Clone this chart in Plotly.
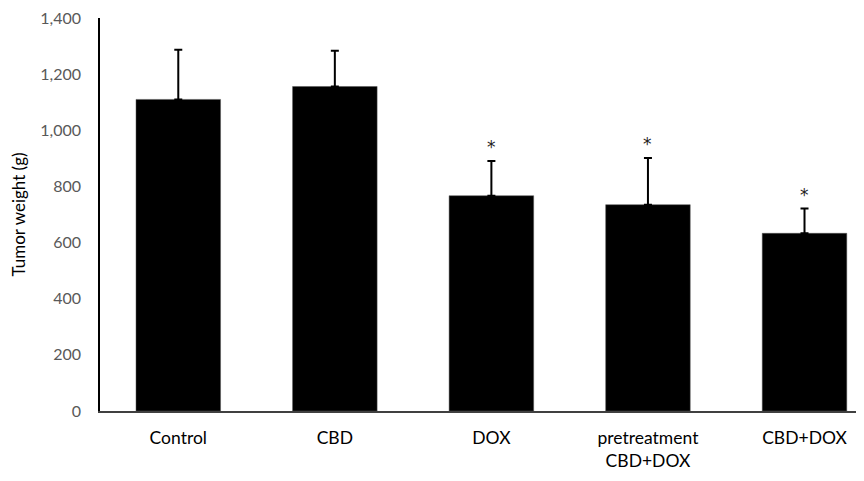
import plotly.graph_objects as go

categories = ["Control", "CBD", "DOX", "pretreatment<br>CBD+DOX", "CBD+DOX"]
means = [1110, 1156, 767, 735, 633]
errors = [177, 127, 124, 166, 88]
stars = ["", "", "*", "*", "*"]
y_ticks = [0, 200, 400, 600, 800, 1000, 1200, 1400]

x_idx = list(range(len(categories)))

fig = go.Figure()
fig.add_trace(go.Bar(
    x=x_idx, y=means, width=0.54,
    marker=dict(color="black", line=dict(color="#555555", width=0.5)),
    error_y=dict(type="data", symmetric=False, array=errors,
                 arrayminus=[0] * len(errors), color="black",
                 thickness=2, width=4),
    showlegend=False,
))
for xi, m, e, s in zip(x_idx, means, errors, stars):
    if s:
        fig.add_annotation(x=xi, y=m + e, text=s, showarrow=False,
                           yanchor="bottom", yshift=2,
                           font=dict(size=17, color="#222222",
                                     family="DejaVu Sans, sans-serif"))

fig.update_layout(
    width=856, height=473,
    margin=dict(l=92, r=0, t=7, b=70),
    plot_bgcolor="white", paper_bgcolor="white",
    font=dict(family="Lato, 'Open Sans', sans-serif", color="black"),
)
fig.update_xaxes(
    range=[-0.5, 4.38], tickmode="array", tickvals=x_idx, ticktext=categories,
    showline=True, linecolor="#404040", linewidth=1.5, showgrid=False,
    ticks="", tickfont=dict(size=17.5, color="black"), ticklabelstandoff=10,
    zeroline=False,
)
fig.update_yaxes(
    range=[0, 1400], tickmode="array", tickvals=y_ticks, tickformat=",",
    showline=True, linecolor="black", linewidth=1.5, showgrid=False,
    ticks="", tickfont=dict(size=16, color="#595959"), ticklabelstandoff=14,
    ticklabeloverflow="allow",
    title=dict(text="Tumor weight (g)", font=dict(size=17, color="black"), standoff=18),
    zeroline=False,
)

fig.write_html("out.html")
